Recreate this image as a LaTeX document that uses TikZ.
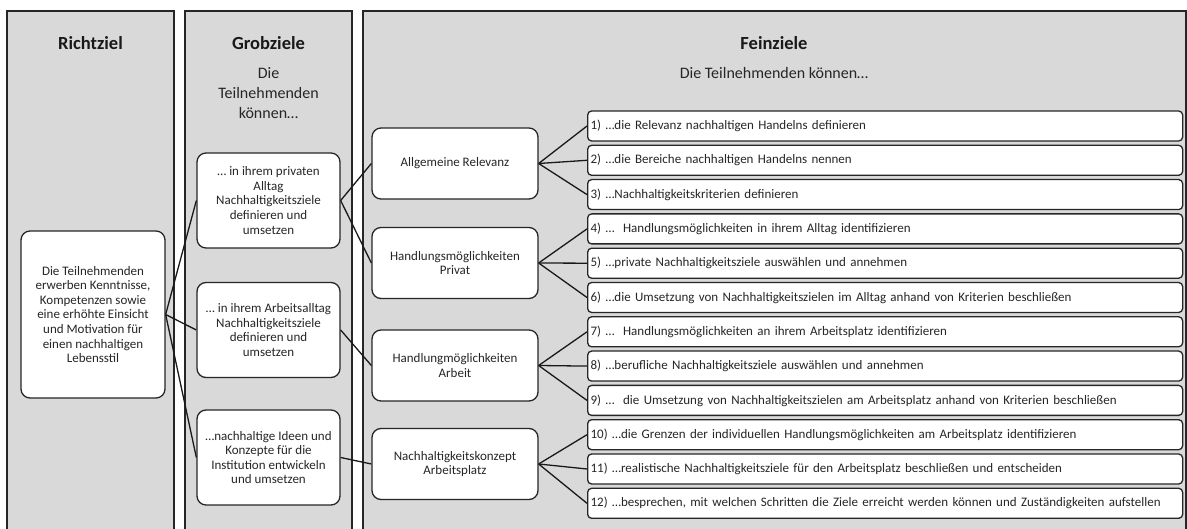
\documentclass[tikz,border=0pt]{standalone}
\usepackage{fontspec}
\setmainfont{Carlito}
\begin{document}
\begin{tikzpicture}[x=1pt, y=-1pt, font=\fontsize{13}{14.6}\selectfont,
  panel/.style={fill=black!15},
  rand/.style={draw=black!85, line width=1.3pt},
  titel/.style={font=\bfseries\fontsize{18.5}{22}\selectfont, text=black!90},
  untertitel/.style={font=\fontsize{16}{20}\selectfont, align=center, text=black!85},
  box/.style={draw=black!85, fill=white, rounded corners=9pt, line width=1.3pt, align=center, inner sep=2pt, text=black!85},
  ziel/.style={draw=black!85, fill=white, rounded corners=4pt, line width=1.3pt, anchor=west, text width=589pt, minimum height=30pt, inner xsep=3pt, align=left, text=black!85},
  link/.style={line width=1.3pt, draw=black!90}]

\useasboundingbox (0,0) rectangle (1187,529);

\foreach \l/\r in {7/174, 185/352, 363/1186} {
  \fill[panel] (\l,11) rectangle (\r,529);
  \draw[rand] (\l,529) -- (\l,11) -- (\r,11) -- (\r,529);
}

\node[titel] (t1) at (90.5,43) {Richtziel};
\node[titel] (t2) at (268.5,43) {Grobziele};
\node[untertitel] (s2) at (268.5,93) {Die\\Teilnehmenden\\können…};
\node[titel] (t3) at (774,43) {Feinziele};
\node[untertitel] (s3) at (774,73) {Die Teilnehmenden können…};

\node[box, minimum width=144pt, minimum height=167pt] (rz) at (93,314.5)
  {Die Teilnehmenden\\erwerben Kenntnisse,\\Kompetenzen sowie\\eine erhöhte Einsicht\\und Motivation für\\einen nachhaltigen\\Lebensstil};

\node[box, minimum width=143pt, minimum height=95pt] (gz1) at (268.5,200.5)
  {… in ihrem privaten\\Alltag\\Nachhaltigkeitsziele\\definieren und\\umsetzen};
\node[box, minimum width=143pt, minimum height=95pt] (gz2) at (268.5,330)
  {… in ihrem Arbeitsalltag\\Nachhaltigkeitsziele\\definieren und\\umsetzen};
\node[box, minimum width=143pt, minimum height=95pt] (gz3) at (268.5,457.5)
  {…nachhaltige Ideen und\\Konzepte für die\\Institution entwickeln\\und umsetzen};

\node[box, minimum width=166pt, minimum height=71pt] (mz1) at (455,163.5) {Allgemeine Relevanz};
\node[box, minimum width=166pt, minimum height=71pt] (mz2) at (455,263) {Handlungsmöglichkeiten\\Privat};
\node[box, minimum width=166pt, minimum height=71pt] (mz3) at (455,365.5) {Handlungmöglichkeiten\\Arbeit};
\node[box, minimum width=166pt, minimum height=71pt] (mz4) at (455,464) {Nachhaltigkeitskonzept\\Arbeitsplatz};

\foreach \t [count=\i] in {
  {1) …die Relevanz nachhaltigen Handelns definieren},
  {2) …die Bereiche nachhaltigen Handelns nennen},
  {3) …Nachhaltigkeitskriterien definieren},
  {4) …\ \ Handlungsmöglichkeiten in ihrem Alltag identifizieren},
  {5) …private Nachhaltigkeitsziele auswählen und annehmen},
  {6) …die Umsetzung von Nachhaltigkeitszielen im Alltag anhand von Kriterien beschließen},
  {7) …\ \ Handlungsmöglichkeiten an ihrem Arbeitsplatz identifizieren},
  {8) …berufliche Nachhaltigkeitsziele auswählen und annehmen},
  {9) …\ \ die Umsetzung von Nachhaltigkeitszielen am Arbeitsplatz anhand von Kriterien beschließen},
  {10) …die Grenzen der individuellen Handlungsmöglichkeiten am Arbeitsplatz identifizieren},
  {11) …realistische Nachhaltigkeitsziele für den Arbeitsplatz beschließen und entscheiden},
  {12) …besprechen, mit welchen Schritten die Ziele erreicht werden können und Zuständigkeiten aufstellen}}
  \node[ziel] (fz\i) at (587,{126+34.3*(\i-1)}) {\t};

\foreach \i in {1,2,3}
  \draw[link] (rz.east) -- (gz\i.west);
\draw[link] (gz1.east) -- (mz1.west);
\draw[link] (gz1.east) -- (mz2.west);
\draw[link] (gz2.east) -- (mz3.west);
\draw[link] (gz3.east) -- (mz4.west);

\foreach \i in {1,...,12} {
  \pgfmathtruncatemacro{\m}{(\i+2)/3}
  \draw[link] (mz\m.east) -- (fz\i.west);
}
\end{tikzpicture}
\end{document}
